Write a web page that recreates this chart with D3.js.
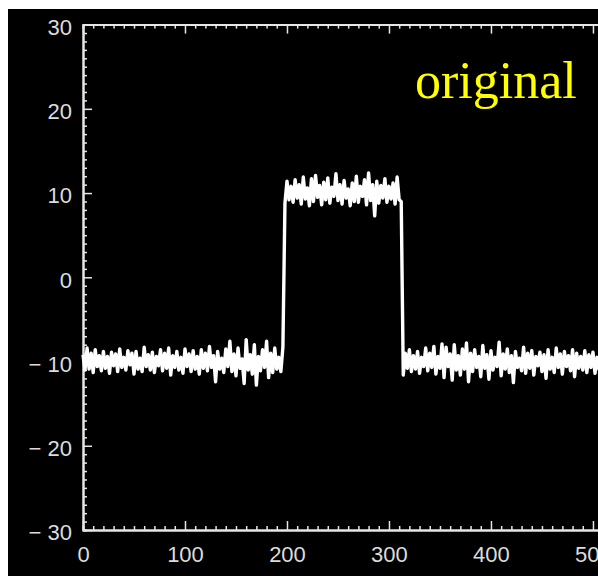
<!DOCTYPE html>
<html>
<head>
<meta charset="utf-8">
<script src="https://cdn.jsdelivr.net/npm/d3@7"></script>
<style>
  body { margin: 0; background: #fff; }
  svg { display: block; }
</style>
</head>
<body>
<svg id="chart" width="598" height="576"></svg>
<script>
const step = 2;
const lowLeftStart = 0;
const lowLeft = [
  -9.2,-11.0,-8.4,-10.9,-9.0,-11.3,-8.6,-10.6,-9.3,-11.1,
  -8.8,-10.8,-9.4,-11.4,-8.9,-10.5,-9.1,-11.2,-8.5,-10.7,
  -9.5,-11.0,-8.7,-10.4,-9.0,-11.5,-8.8,-10.9,-9.6,-11.2,
  -8.3,-10.6,-9.2,-11.0,-8.9,-11.3,-9.4,-10.5,-8.6,-11.1,
  -9.0,-10.8,-8.4,-11.6,-9.3,-10.7,-8.8,-11.0,-9.5,-11.4,
  -8.5,-10.6,-9.1,-11.2,-8.7,-10.9,-9.4,-11.5,-8.6,-10.8,
  -9.0,-11.1,-8.2,-10.7,-9.3,-12.4,-8.8,-10.9,-9.6,-11.3,
  -8.5,-10.6,-7.6,-11.2,-9.1,-11.7,-8.4,-10.8,-9.7,-12.6,
  -7.4,-11.0,-9.2,-11.5,-8.0,-12.8,-9.4,-11.1,-8.6,-10.7,
  -7.6,-11.9,-9.0,-11.3,-8.4,-10.9,-9.5,-11.2,-8.3
];
const plateauStart = 198;
const plateau = [
  8.8,11.4,9.2,10.8,8.9,11.6,9.4,11.0,8.7,11.9,
  9.3,10.6,8.5,11.7,9.0,12.1,9.5,10.9,8.6,11.3,
  9.2,11.8,8.8,10.7,9.6,12.3,9.1,11.0,8.7,11.5,
  9.4,10.5,8.5,11.2,9.0,12.0,8.9,10.8,9.6,11.6,
  8.6,12.4,9.1,11.0,7.3,11.4,8.8,10.9,9.4,11.7,
  8.9,10.8,9.3,11.2,8.7,11.9,9.2,9.0
];
const lowRightStart = 314;
const lowRight = [
  -11.6,-9.0,-10.8,-8.6,-11.2,-9.3,-10.9,-8.8,-11.4,-9.5,
  -10.6,-8.4,-11.1,-9.0,-10.7,-8.2,-11.5,-9.4,-10.8,-7.9,
  -11.9,-8.3,-10.6,-9.1,-12.2,-8.0,-11.0,-9.3,-11.6,-8.5,
  -10.9,-7.8,-12.4,-9.0,-11.2,-8.6,-10.7,-9.4,-11.8,-8.1,
  -10.8,-9.2,-12.1,-8.7,-11.0,-9.5,-10.6,-7.7,-11.7,-9.1,
  -10.9,-8.5,-11.3,-9.3,-12.5,-8.8,-10.7,-9.6,-11.1,-8.3,
  -11.4,-9.0,-10.8,-8.7,-11.6,-9.4,-10.5,-8.9,-11.2,-9.2,
  -12.0,-8.6,-10.9,-9.5,-11.3,-8.4,-10.7,-9.1,-11.5,-8.8,
  -10.6,-9.3,-11.1,-8.6,-11.8,-9.0,-10.8,-9.4,-11.0,-8.7,
  -11.3,-9.2,-10.7,-8.9,-11.4,-9.5,-10.9,-8.8,-11.1
];
const xMajor = [0, 100, 200, 300, 400, 500];
const yMajor = [-30, -20, -10, 0, 10, 20, 30];
const label = 'original';

const segs = [[lowLeftStart, lowLeft], [plateauStart, plateau], [lowRightStart, lowRight]];
const data = [];
segs.forEach(([s, vals]) => vals.forEach((v, i) => data.push({ x: s + i * step, y: v })));

const svg = d3.select('#chart');
const fg = '#e6e6e6';

// black panel, page shows a thin white edge top/left
svg.append('rect')
  .attr('x', 8).attr('y', 9)
  .attr('width', 590).attr('height', 567)
  .attr('fill', '#000');

const x = d3.scaleLinear().domain([0, 512]).range([83, 605.2]);
const y = d3.scaleLinear().domain([-30, 30]).range([530, 24.6]);

const xMinor = d3.range(0, 513, 10).filter(d => d % 100 !== 0);
const yMinor = d3.range(-30, 31, 1).filter(d => d % 10 !== 0);

const fmt = d => d < 0 ? '\u2212 ' + Math.abs(d) : String(d);

function styleAxis(g) {
  g.select('.domain').attr('stroke', fg).attr('stroke-width', 2);
  g.selectAll('.tick line').attr('stroke', fg).attr('stroke-width', 1.5);
  g.selectAll('text')
    .attr('fill', '#dcdcdc')
    .attr('font-family', 'Liberation Sans, Arial, sans-serif')
    .attr('font-size', 22);
}

// bottom
svg.append('g').attr('transform', `translate(0,${y(-30)})`)
  .call(d3.axisBottom(x).tickValues(xMinor).tickSize(-4).tickFormat(''))
  .call(styleAxis);
svg.append('g').attr('transform', `translate(0,${y(-30)})`)
  .call(d3.axisBottom(x).tickValues(xMajor).tickSize(-9).tickSizeOuter(0).tickPadding(16).tickFormat(fmt))
  .call(styleAxis);
// top
svg.append('g').attr('transform', `translate(0,${y(30)})`)
  .call(d3.axisTop(x).tickValues(xMinor).tickSize(-4).tickFormat(''))
  .call(styleAxis);
svg.append('g').attr('transform', `translate(0,${y(30)})`)
  .call(d3.axisTop(x).tickValues(xMajor).tickSize(-9).tickSizeOuter(0).tickFormat(''))
  .call(styleAxis);
// left
svg.append('g').attr('transform', `translate(${x(0)},0)`)
  .call(d3.axisLeft(y).tickValues(yMinor).tickSize(-4).tickFormat(''))
  .call(styleAxis);
svg.append('g').attr('transform', `translate(${x(0)},0)`)
  .call(d3.axisLeft(y).tickValues(yMajor).tickSize(-9).tickSizeOuter(0).tickPadding(11).tickFormat(fmt))
  .call(styleAxis)
  .selectAll('text').attr('dy', '0.45em');

// signal
const line = d3.line().x(d => x(d.x)).y(d => y(d.y));
svg.append('path')
  .datum(data)
  .attr('d', line)
  .attr('fill', 'none')
  .attr('stroke', '#fff')
  .attr('stroke-width', 3.4)
  .attr('stroke-linejoin', 'round');

svg.append('text')
  .attr('x', 415).attr('y', 98)
  .attr('fill', '#ffff00')
  .attr('font-family', 'Liberation Serif, Times New Roman, serif')
  .attr('font-size', 52)
  .text(label);
</script>
</body>
</html>
